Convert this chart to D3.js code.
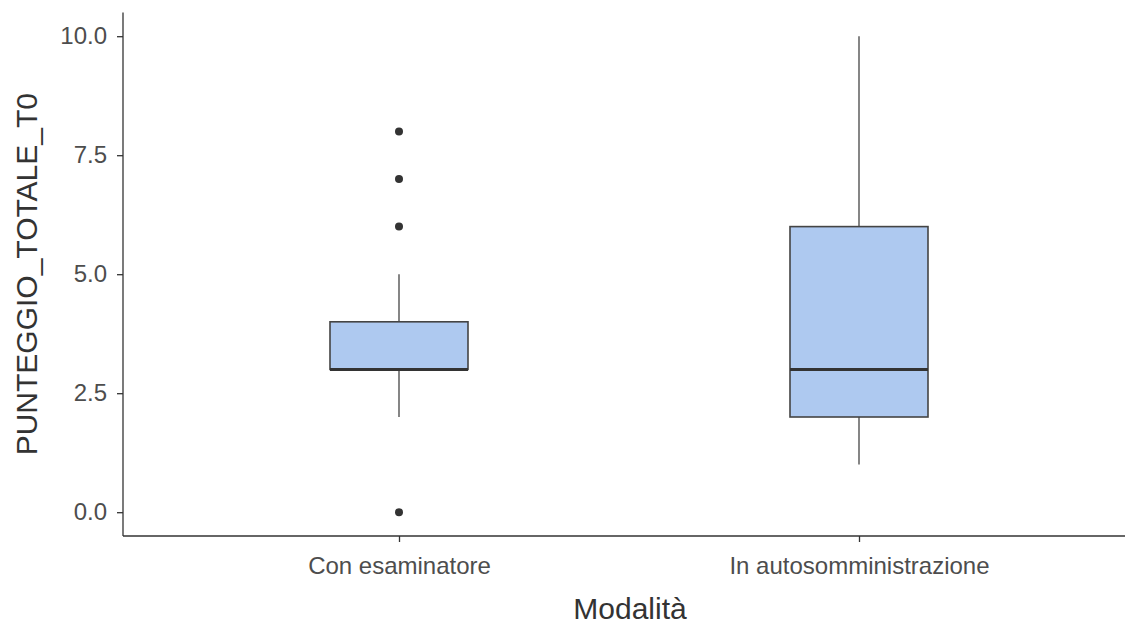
<!DOCTYPE html>
<html>
<head>
<meta charset="utf-8">
<script src="https://cdn.jsdelivr.net/npm/d3@7"></script>
<style>
  body { margin: 0; background: #fff; }
  text { font-family: "Liberation Sans", Arial, sans-serif; }
</style>
</head>
<body>
<svg id="chart" width="1125" height="625"></svg>
<script>
// categories and box stats
var categories = ["Con esaminatore", "In autosomministrazione"];
var whiskerLow = [2, 1];
var q1 = [3, 2];
var median = [3, 3];
var q3 = [4, 6];
var whiskerHigh = [5, 10];
var outliers = [[0, 6, 7, 8], []];
var yTicks = [0, 2.5, 5, 7.5, 10];

var svg = d3.select("#chart");
var plotLeft = 123, plotRight = 1135, plotTop = 12.4, plotBottom = 536;

// discrete axis like ggplot: positions 1..n, expanded by 0.6
var xPos = d3.scaleLinear().domain([0.4, categories.length + 0.6]).range([plotLeft, plotRight]);
var y = d3.scaleLinear().domain([-0.5, 10.5]).range([plotBottom, plotTop]);
var boxW = xPos(1.3) - xPos(1);

var data = categories.map(function (c, i) {
    return {cat: c, i: i + 1, lo: whiskerLow[i], q1: q1[i], med: median[i], q3: q3[i], hi: whiskerHigh[i], out: outliers[i]};
});

var g = svg.append("g");
var boxes = g.selectAll(".box").data(data).enter().append("g");

// whiskers
boxes.append("line")
    .attr("x1", function (d) { return xPos(d.i); })
    .attr("x2", function (d) { return xPos(d.i); })
    .attr("y1", function (d) { return y(d.q3); })
    .attr("y2", function (d) { return y(d.hi); })
    .attr("stroke", "#444").attr("stroke-width", 1.3);
boxes.append("line")
    .attr("x1", function (d) { return xPos(d.i); })
    .attr("x2", function (d) { return xPos(d.i); })
    .attr("y1", function (d) { return y(d.q1); })
    .attr("y2", function (d) { return y(d.lo); })
    .attr("stroke", "#444").attr("stroke-width", 1.3);

boxes.append("rect")
    .attr("x", function (d) { return xPos(d.i) - boxW / 2; })
    .attr("width", boxW)
    .attr("y", function (d) { return y(d.q3); })
    .attr("height", function (d) { return y(d.q1) - y(d.q3); })
    .attr("fill", "#aec9f0")
    .attr("stroke", "#444").attr("stroke-width", 1.6);

boxes.append("line")
    .attr("x1", function (d) { return xPos(d.i) - boxW / 2; })
    .attr("x2", function (d) { return xPos(d.i) + boxW / 2; })
    .attr("y1", function (d) { return y(d.med); })
    .attr("y2", function (d) { return y(d.med); })
    .attr("stroke", "#333").attr("stroke-width", 3);

boxes.selectAll("circle")
    .data(function (d) { return d.out.map(function (v) { return {i: d.i, v: v}; }); })
    .enter().append("circle")
    .attr("cx", function (d) { return xPos(d.i); })
    .attr("cy", function (d) { return y(d.v); })
    .attr("r", 4)
    .attr("fill", "#333");

// axes
var yAxis = svg.append("g")
    .attr("transform", "translate(" + plotLeft + ",0)")
    .call(d3.axisLeft(y).tickValues(yTicks).tickFormat(d3.format(".1f")).tickSize(6).tickPadding(10));
var xAxis = svg.append("g")
    .attr("transform", "translate(0," + plotBottom + ")")
    .call(d3.axisBottom(xPos).tickValues(data.map(function (d) { return d.i; }))
        .tickFormat(function (v) { return categories[v - 1]; }).tickSize(6).tickPadding(15));

[yAxis, xAxis].forEach(function (a) {
    a.select(".domain").attr("stroke", "#333").attr("stroke-width", 1.3);
    a.selectAll(".tick line").attr("stroke", "#333").attr("stroke-width", 1.3);
    a.selectAll(".tick text").attr("fill", "#4d4d4d").style("font-size", "24px");
});
xAxis.select(".domain").attr("d", "M" + plotLeft + ",0H1125");
yAxis.select(".domain").attr("d", "M0," + plotTop + "V" + plotBottom);

svg.append("text")
    .attr("x", 630).attr("y", 619)
    .attr("text-anchor", "middle")
    .attr("fill", "#333").style("font-size", "30px")
    .text("Modalità");
svg.append("text")
    .attr("transform", "translate(37," + ((plotTop + plotBottom) / 2) + ") rotate(-90)")
    .attr("text-anchor", "middle")
    .attr("fill", "#333").style("font-size", "30px")
    .text("PUNTEGGIO_TOTALE_T0");
</script>
</body>
</html>
